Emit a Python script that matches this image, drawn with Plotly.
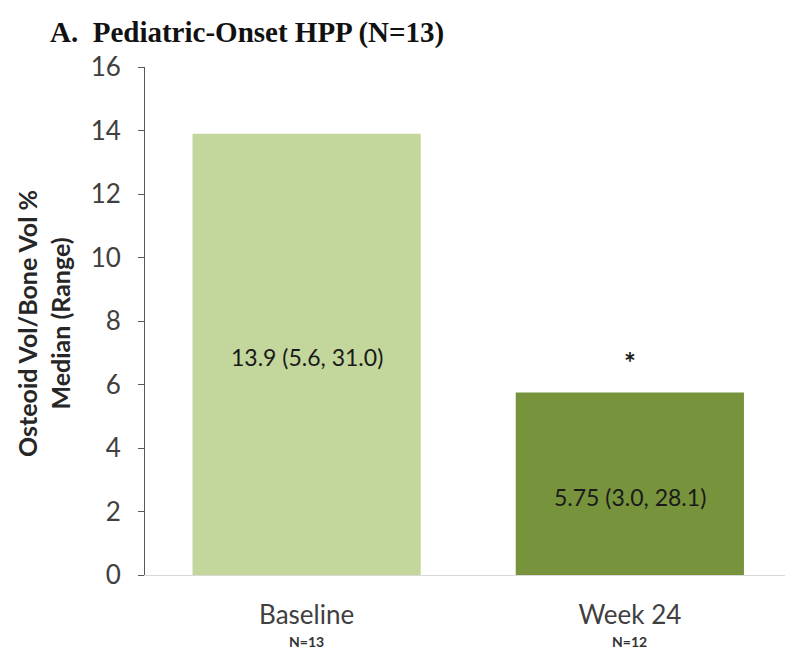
import plotly.graph_objects as go

categories = ["Baseline", "Week 24"]
n_labels = ["N=13", "N=12"]
medians = [13.9, 5.75]
range_labels = ["13.9 (5.6, 31.0)", "5.75 (3.0, 28.1)"]
label_y = [6.87, 2.46]
bar_colors = ["#c3d69b", "#77933c"]
y_ticks = [0, 2, 4, 6, 8, 10, 12, 14, 16]

W, H = 785, 652
L, R, T, B = 145, 0, 67, 77

fig = go.Figure()
fig.add_trace(go.Bar(
    x=categories, y=medians, marker=dict(color=bar_colors, line=dict(width=0)),
    width=0.706, hoverinfo="skip", showlegend=False,
))

ann = []
for c, t, yy in zip(categories, range_labels, label_y):
    ann.append(dict(x=c, y=yy, xref="x", yref="y", text=t, showarrow=False,
                    font=dict(family="Lato", size=23, color="#1a1a1a")))
ann.append(dict(x=categories[1], y=label_y[0] - 0.15, xref="x", yref="y", text="<b>*</b>", showarrow=False,
                font=dict(family="Lato", size=28, color="#1a1a1a")))
for c, n in zip(categories, n_labels):
    ann.append(dict(x=c, y=-(641 - 575) / (H - T - B), xref="x", yref="paper", text="<b>" + n + "</b>",
                    showarrow=False, font=dict(family="Lato", size=14, color="#333333"), yanchor="middle"))
ann.append(dict(x=(43 - L) / (W - L - R), y=(575 - 324) / (H - T - B), xref="paper", yref="paper",
                text="<b>Osteoid Vol/Bone Vol %<br>Median (Range)</b>", textangle=-90,
                showarrow=False, xanchor="center", yanchor="middle",
                font=dict(family="Lato", size=25, color="#262626")))
ann.append(dict(x=(48 - L) / (W - L - R), y=1 + (T - 33) / (H - T - B), xref="paper", yref="paper",
                text="<b>A.  Pediatric-Onset HPP (N=13)</b>",
                showarrow=False, xanchor="left", yanchor="middle",
                font=dict(family="Liberation Serif", size=29, color="#111111")))

fig.update_layout(
    width=W, height=H, margin=dict(l=L, r=R, t=T, b=B, pad=0),
    paper_bgcolor="white", plot_bgcolor="white",
    annotations=ann,
    xaxis=dict(range=[-0.5, 1.48], showline=True, linecolor="#d9d9d9", linewidth=1,
               ticks="", tickfont=dict(family="Lato", size=26, color="#404040"),
               showgrid=False, zeroline=False, fixedrange=True, ticklabelstandoff=17),
    yaxis=dict(range=[0, 16], tickvals=y_ticks, showline=True, linecolor="#595959", linewidth=1,
               ticks="outside", ticklen=6, tickcolor="#595959",
               tickfont=dict(family="Lato", size=26, color="#404040"),
               showgrid=False, zeroline=False, ticklabelstandoff=12),
    bargap=0.294,
)
fig.write_html("out.html")
